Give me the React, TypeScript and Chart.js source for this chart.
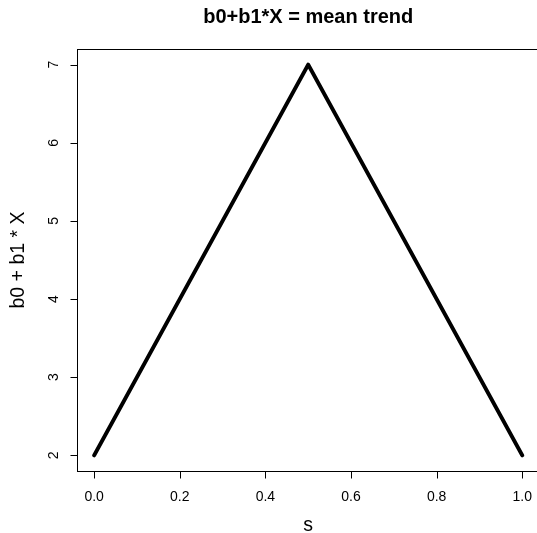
import React, { useEffect, useRef } from "react";
import { Chart, registerables } from "chart.js";

Chart.register(...registerables);

const xValues = [0, 0.5, 1];
const yValues = [2, 7, 2];
const xTicks = [0, 0.2, 0.4, 0.6, 0.8, 1.0];
const xTickLabels = ["0.0", "0.2", "0.4", "0.6", "0.8", "1.0"];
const yTicks = [2, 3, 4, 5, 6, 7];
const yTickLabels = ["2", "3", "4", "5", "6", "7"];
const titleText = "b0+b1*X = mean trend";
const xLabel = "s";
const yLabel = "b0 + b1 * X";

const FONT = "'Liberation Sans', Arial, Helvetica, sans-serif";

const rAxesPlugin = {
  id: "rAxes",
  afterDraw(chart: any) {
    const ctx = chart.ctx as CanvasRenderingContext2D;
    const area = chart.chartArea;
    const xs = chart.scales.x;
    const ys = chart.scales.y;
    ctx.save();
    ctx.strokeStyle = "#000";
    ctx.fillStyle = "#000";
    ctx.lineWidth = 1;
    // box
    ctx.strokeRect(
      Math.round(area.left) + 0.5,
      Math.round(area.top) + 0.5,
      Math.round(area.right - area.left),
      Math.round(area.bottom - area.top)
    );
    // x ticks
    ctx.font = `14px ${FONT}`;
    ctx.textAlign = "center";
    ctx.textBaseline = "middle";
    xTicks.forEach((v, i) => {
      const px = Math.round(xs.getPixelForValue(v)) + 0.5;
      const b = Math.round(area.bottom) + 0.5;
      ctx.beginPath();
      ctx.moveTo(px, b);
      ctx.lineTo(px, b + 7);
      ctx.stroke();
      ctx.fillText(xTickLabels[i], xs.getPixelForValue(v), area.bottom + 26);
    });
    // y ticks
    yTicks.forEach((v, i) => {
      const py = Math.round(ys.getPixelForValue(v)) + 0.5;
      const l = Math.round(area.left) + 0.5;
      ctx.beginPath();
      ctx.moveTo(l, py);
      ctx.lineTo(l - 7, py);
      ctx.stroke();
      ctx.save();
      ctx.translate(area.left - 23, ys.getPixelForValue(v));
      ctx.rotate(-Math.PI / 2);
      ctx.fillText(yTickLabels[i], 0, 0);
      ctx.restore();
    });
    // title
    const cx = (area.left + area.right) / 2;
    const cy = (area.top + area.bottom) / 2;
    ctx.font = `bold 20px ${FONT}`;
    ctx.fillText(titleText, cx, 17);
    // axis labels
    ctx.font = `19.5px ${FONT}`;
    ctx.fillText(xLabel, cx, 526);
    ctx.save();
    ctx.translate(19, cy);
    ctx.rotate(-Math.PI / 2);
    ctx.fillText(yLabel, 0, 0);
    ctx.restore();
    ctx.restore();
  },
};

export default function App() {
  const ref = useRef<HTMLCanvasElement>(null);
  useEffect(() => {
    if (!ref.current) return;
    const chart = new Chart(ref.current, {
      type: "scatter",
      data: {
        datasets: [
          {
            data: xValues.map((x, i) => ({ x, y: yValues[i] })),
            showLine: true,
            borderColor: "#000",
            backgroundColor: "#000",
            borderWidth: 4,
            pointRadius: 0,
            borderJoinStyle: "round",
            borderCapStyle: "round",
          } as any,
        ],
      },
      options: {
        responsive: false,
        animation: false,
        devicePixelRatio: 1,
        layout: { padding: { left: 77, top: 49, right: 1.6, bottom: 62 } },
        plugins: { legend: { display: false }, tooltip: { enabled: false } },
        scales: {
          x: { type: "linear", min: -0.04, max: 1.04, display: false },
          y: { type: "linear", min: 1.8, max: 7.2, display: false },
        },
      },
      plugins: [rAxesPlugin],
    });
    return () => chart.destroy();
  }, []);
  return (
    <div
      style={{
        position: "fixed",
        left: 0,
        top: 0,
        width: 537,
        height: 533,
        overflow: "hidden",
        background: "#fff",
      }}
    >
      <canvas ref={ref} width={541} height={533} style={{ display: "block" }} />
    </div>
  );
}
